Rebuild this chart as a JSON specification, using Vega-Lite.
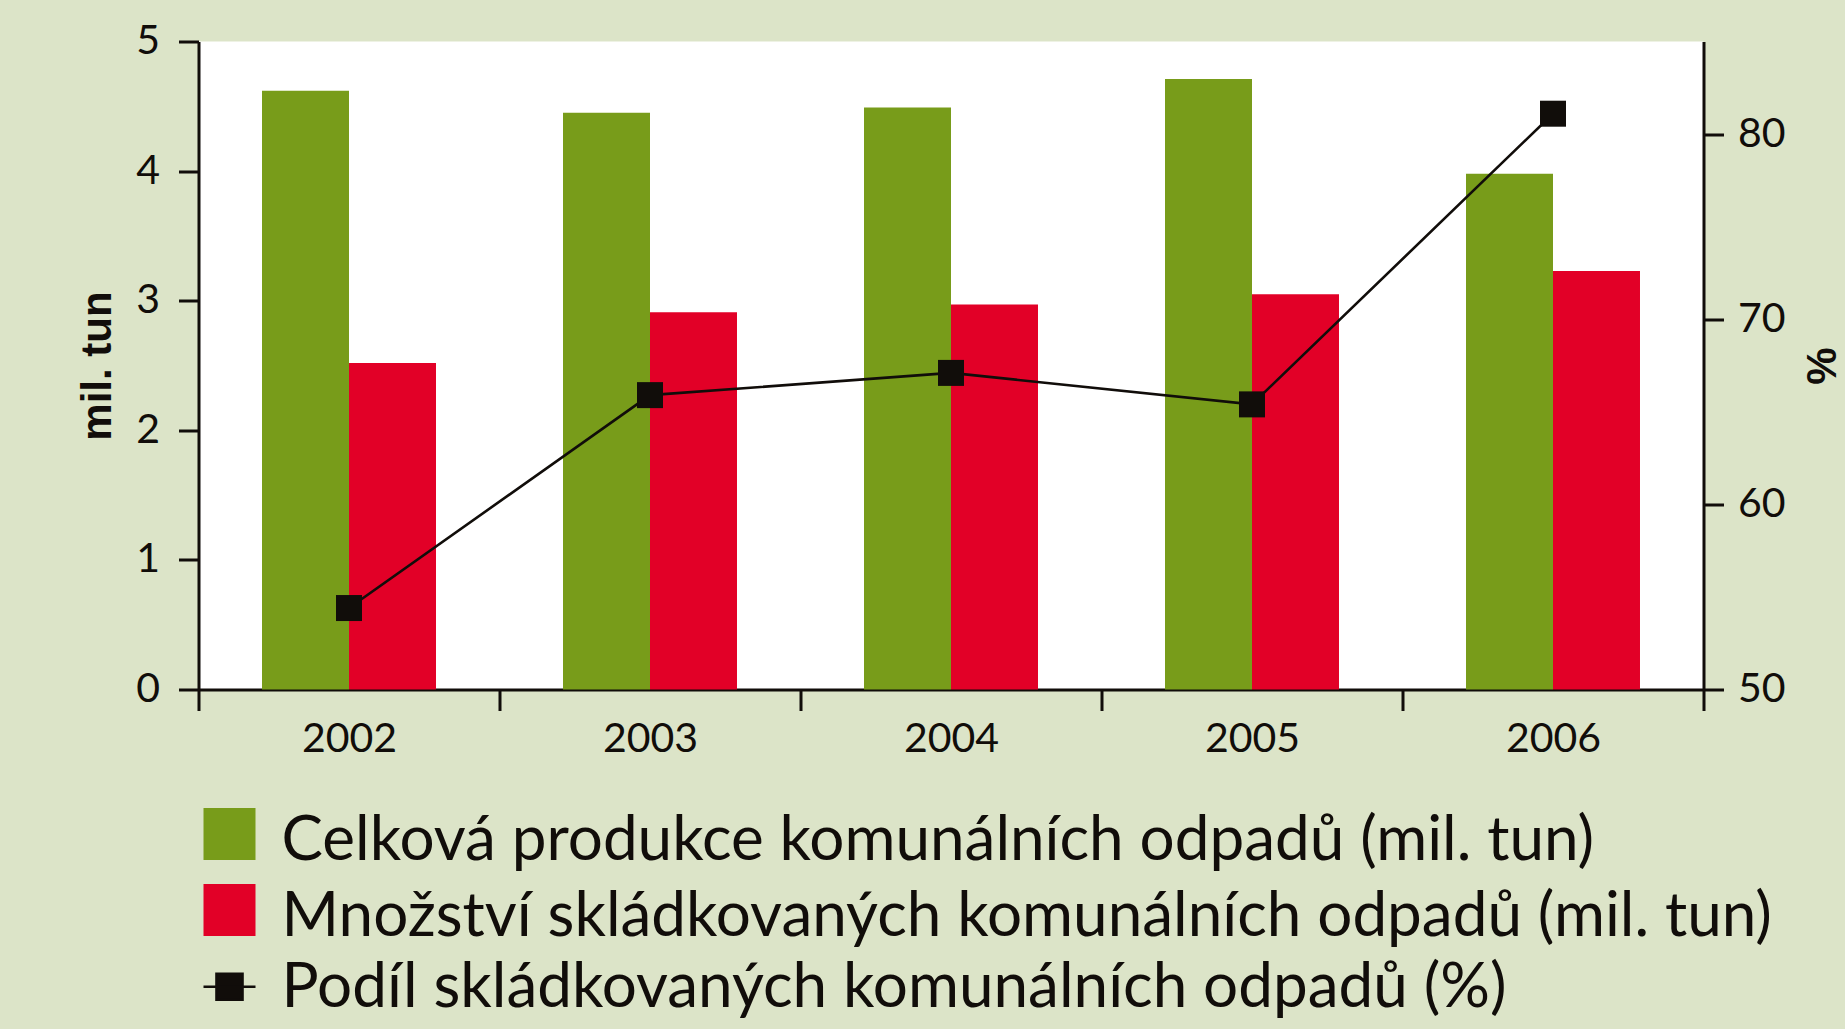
{
  "$schema": "https://vega.github.io/schema/vega-lite/v6.json",
  "width": 1505,
  "height": 648,
  "autosize": {"type": "none"},
  "padding": {"left": 198.5, "top": 41.5, "right": 141.5, "bottom": 339.5},
  "background": "#dce4c8",
  "config": {
    "view": {"fill": "white", "stroke": null},
    "font": "Lato",
    "axis": {
      "grid": false,
      "domainColor": "#110d0a",
      "domainWidth": 3,
      "tickColor": "#110d0a",
      "tickWidth": 3,
      "labelColor": "#110d0a",
      "labelFont": "Lato",
      "labelFontSize": 41,
      "titleColor": "#110d0a",
      "titleFont": "Liberation Sans",
      "titleFontWeight": "bold",
      "titleFontSize": 42
    },
    "legend": {
      "labelFont": "Lato",
      "labelFontSize": 62,
      "labelColor": "#110d0a",
      "labelLimit": 3000,
      "padding": 0,
      "offset": 0
    }
  },
  "datasets": {
    "bars": [
      {"year": "2002", "series": "Celková produkce komunálních odpadů (mil. tun)", "value": 4.62},
      {"year": "2002", "series": "Množství skládkovaných komunálních odpadů (mil. tun)", "value": 2.52},
      {"year": "2003", "series": "Celková produkce komunálních odpadů (mil. tun)", "value": 4.45},
      {"year": "2003", "series": "Množství skládkovaných komunálních odpadů (mil. tun)", "value": 2.91},
      {"year": "2004", "series": "Celková produkce komunálních odpadů (mil. tun)", "value": 4.49},
      {"year": "2004", "series": "Množství skládkovaných komunálních odpadů (mil. tun)", "value": 2.97},
      {"year": "2005", "series": "Celková produkce komunálních odpadů (mil. tun)", "value": 4.71},
      {"year": "2005", "series": "Množství skládkovaných komunálních odpadů (mil. tun)", "value": 3.05},
      {"year": "2006", "series": "Celková produkce komunálních odpadů (mil. tun)", "value": 3.98},
      {"year": "2006", "series": "Množství skládkovaných komunálních odpadů (mil. tun)", "value": 3.23}
    ],
    "share": [
      {"year": "2002", "series": "Podíl skládkovaných komunálních odpadů (%)", "pct": 54.4},
      {"year": "2003", "series": "Podíl skládkovaných komunálních odpadů (%)", "pct": 65.9},
      {"year": "2004", "series": "Podíl skládkovaných komunálních odpadů (%)", "pct": 67.1},
      {"year": "2005", "series": "Podíl skládkovaných komunálních odpadů (%)", "pct": 65.4},
      {"year": "2006", "series": "Podíl skládkovaných komunálních odpadů (%)", "pct": 81.1}
    ]
  },
  "layer": [
    {
      "data": {"name": "bars"},
      "mark": {"type": "bar"},
      "encoding": {
        "x": {
          "field": "year",
          "type": "nominal",
          "scale": {"paddingInner": 0, "paddingOuter": 0},
          "axis": {
            "title": null,
            "labelAngle": 0,
            "tickBand": "extent",
            "tickSize": 21,
            "labelPadding": 9
          }
        },
        "xOffset": {
          "field": "series",
          "type": "nominal",
          "scale": {"paddingInner": 0, "paddingOuter": 0.73}
        },
        "y": {
          "field": "value",
          "type": "quantitative",
          "scale": {"domain": [0, 5], "nice": false},
          "axis": {
            "title": "mil. tun",
            "values": [0, 1, 2, 3, 4, 5],
            "tickSize": 20,
            "labelPadding": 19,
            "titleAngle": -90,
            "titleX": -88.5,
            "titleY": 324,
            "titleAlign": "center",
            "titleBaseline": "alphabetic"
          }
        },
        "color": {
          "field": "series",
          "type": "nominal",
          "scale": {
            "domain": ["Celková produkce komunálních odpadů (mil. tun)", "Množství skládkovaných komunálních odpadů (mil. tun)"],
            "range": ["#789c1a", "#e20027"]
          },
          "legend": {
            "title": null,
            "orient": "none",
            "direction": "vertical",
            "legendX": 0,
            "legendY": 761.5,
            "symbolType": "square",
            "symbolSize": 2704,
            "symbolStrokeWidth": 0,
            "rowPadding": 7,
            "labelOffset": 21,
            "encode": {"labels": {"update": {"dy": {"value": 7}}}}
          }
        }
      }
    },
    {
      "data": {"name": "share"},
      "mark": {
        "type": "line",
        "strokeWidth": 2.6,
        "point": {"shape": "square", "size": 676, "filled": true, "opacity": 1}
      },
      "encoding": {
        "x": {"field": "year", "type": "nominal"},
        "y": {
          "field": "pct",
          "type": "quantitative",
          "scale": {"domain": [50, 85], "nice": false},
          "axis": {
            "orient": "right",
            "title": "%",
            "values": [50, 60, 70, 80],
            "tickSize": 20,
            "labelPadding": 14,
            "titleAngle": -90,
            "titleX": 132,
            "titleY": 324,
            "titleAlign": "center",
            "titleBaseline": "alphabetic"
          }
        },
        "color": {
          "field": "series",
          "type": "nominal",
          "scale": {"domain": ["Podíl skládkovaných komunálních odpadů (%)"], "range": ["#110d0a"]},
          "legend": {
            "title": null,
            "orient": "none",
            "legendX": 0,
            "legendY": 914.2,
            "symbolType": "M-1,0H1M-0.5,-0.5H0.5V0.5H-0.5Z",
            "symbolSize": 2704,
            "symbolStrokeWidth": 2.6,
            "labelOffset": 21,
            "encode": {
              "symbols": {"update": {"fill": {"value": "#110d0a"}, "stroke": {"value": "#110d0a"}, "opacity": {"value": 1}}},
              "labels": {"update": {"dy": {"value": 1.5}}}
            }
          }
        }
      }
    }
  ],
  "resolve": {"scale": {"y": "independent", "color": "independent"}}
}
